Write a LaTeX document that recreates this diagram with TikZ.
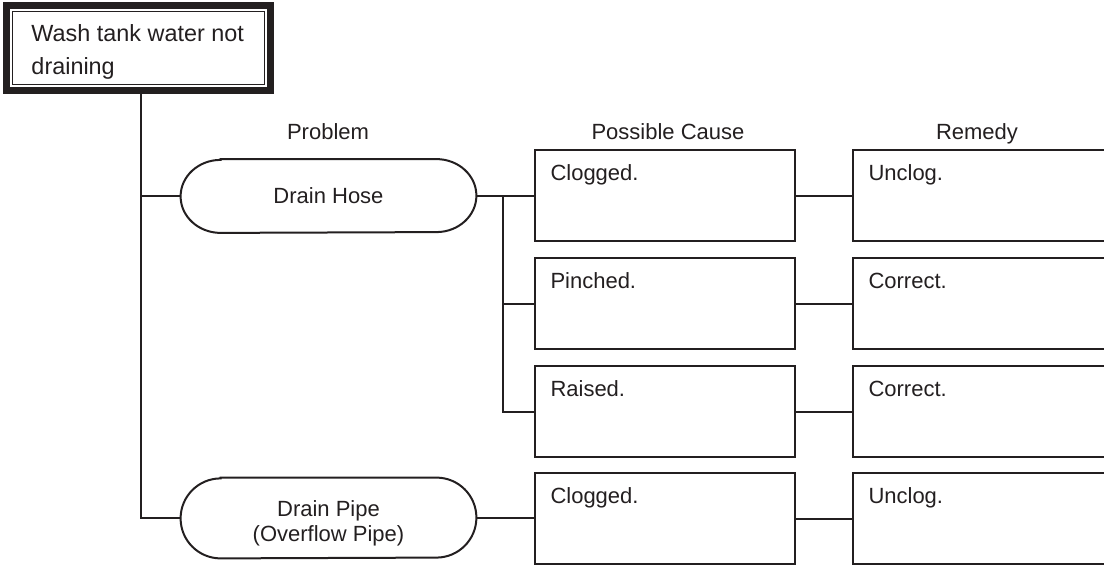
\documentclass[tikz,border=0pt]{standalone}
\usepackage{fontspec}
\setmainfont{Liberation Sans}
\usetikzlibrary{positioning,calc}
\definecolor{chartInk}{HTML}{231F20}

\tikzset{
  causebox/.style={draw=chartInk,line width=1pt,minimum width=130pt,minimum height=45.5pt,
    inner xsep=8pt,inner ysep=0pt,text width=114pt,align=left,
    text height=14.8pt,text depth=30.7pt},
  pillbox/.style={minimum width=147.5pt,minimum height=#1,inner sep=0pt,align=center,
    append after command={\pgfextra{\draw[draw=chartInk,line width=1pt]
      ([xshift=20pt]\tikzlastnode.north west) -- ([xshift=-20pt]\tikzlastnode.north east)
      arc[start angle=90,end angle=-90,x radius=20pt,y radius=#1/2]
      -- ([xshift=20pt]\tikzlastnode.south west)
      arc[start angle=270,end angle=90,x radius=20pt,y radius=#1/2] -- cycle;}}},
  headtext/.style={anchor=base},
  link/.style={draw=chartInk,line width=0.65pt}
}

\begin{document}
\begin{tikzpicture}[x=0.5pt,y=-0.5pt,font=\fontsize{11}{13}\selectfont,text=chartInk]
  \useasboundingbox (0,0) rectangle (1104,566);

  % top: the fault
  \node[draw=chartInk,line width=3.5pt,minimum width=132pt,minimum height=42.5pt,
        inner xsep=12.5pt,inner ysep=0pt,text height=18.25pt,text depth=24.25pt] (top) at (138.5,48)
        {\parbox[t]{107pt}{\fontsize{11.7}{16.5}\selectfont Wash tank water not\\draining}};
  \draw[chartInk,line width=0.6pt] ([shift={(4.75pt,-4.75pt)}]top.north west) rectangle ([shift={(-4.75pt,4.75pt)}]top.south east);

  % column heads
  \node[headtext] (hProblem) at (328,140) {Problem};
  \node[headtext] (hCause) at (668,140) {Possible Cause};
  \node[headtext] (hRemedy) at (977,140) {Remedy};

  % problems
  \node[pillbox=36.5pt] (hose) at (328.5,196) {Drain Hose};
  \node[pillbox=40pt,text height=19.5pt,text depth=20.5pt] (pipe) at (328.5,518)
        {\parbox[t]{140pt}{\centering\fontsize{11}{12.5}\selectfont Drain Pipe\\(Overflow Pipe)}};

  % causes
  \node[causebox] (clogA) at (664.5,196) {Clogged.};
  \node[causebox] (pinchA) at (664.5,304) {Pinched.};
  \node[causebox] (raiseA) at (664.5,412) {Raised.};
  \node[causebox] (clogB) at (664.5,519) {Clogged.};

  % remedies
  \node[causebox] (unclogA) at (982.5,196) {Unclog.};
  \node[causebox] (fixA) at (982.5,304) {Correct.};
  \node[causebox] (fixB) at (982.5,412) {Correct.};
  \node[causebox] (unclogB) at (982.5,519) {Unclog.};

  % connectors
  \coordinate (forkA) at (141,196);
  \coordinate (forkB) at (141,518);
  \coordinate (forkC) at (503,196);
  \draw[link] (top.south -| forkA) -- (forkB) -- (pipe.west);
  \draw[link] (forkA) -- (hose.west);
  \draw[link] (hose.east) -- (clogA.west);
  \draw[link] (forkC) |- (raiseA.west);
  \draw[link] (forkC |- pinchA.west) -- (pinchA.west);
  \draw[link] (pipe.east) -- (pipe.east -| clogB.west);
  \draw[link] (clogA.east) -- (unclogA.west);
  \draw[link] (pinchA.east) -- (fixA.west);
  \draw[link] (raiseA.east) -- (fixB.west);
  \draw[link] (clogB.east) -- (unclogB.west);
\end{tikzpicture}
\end{document}
